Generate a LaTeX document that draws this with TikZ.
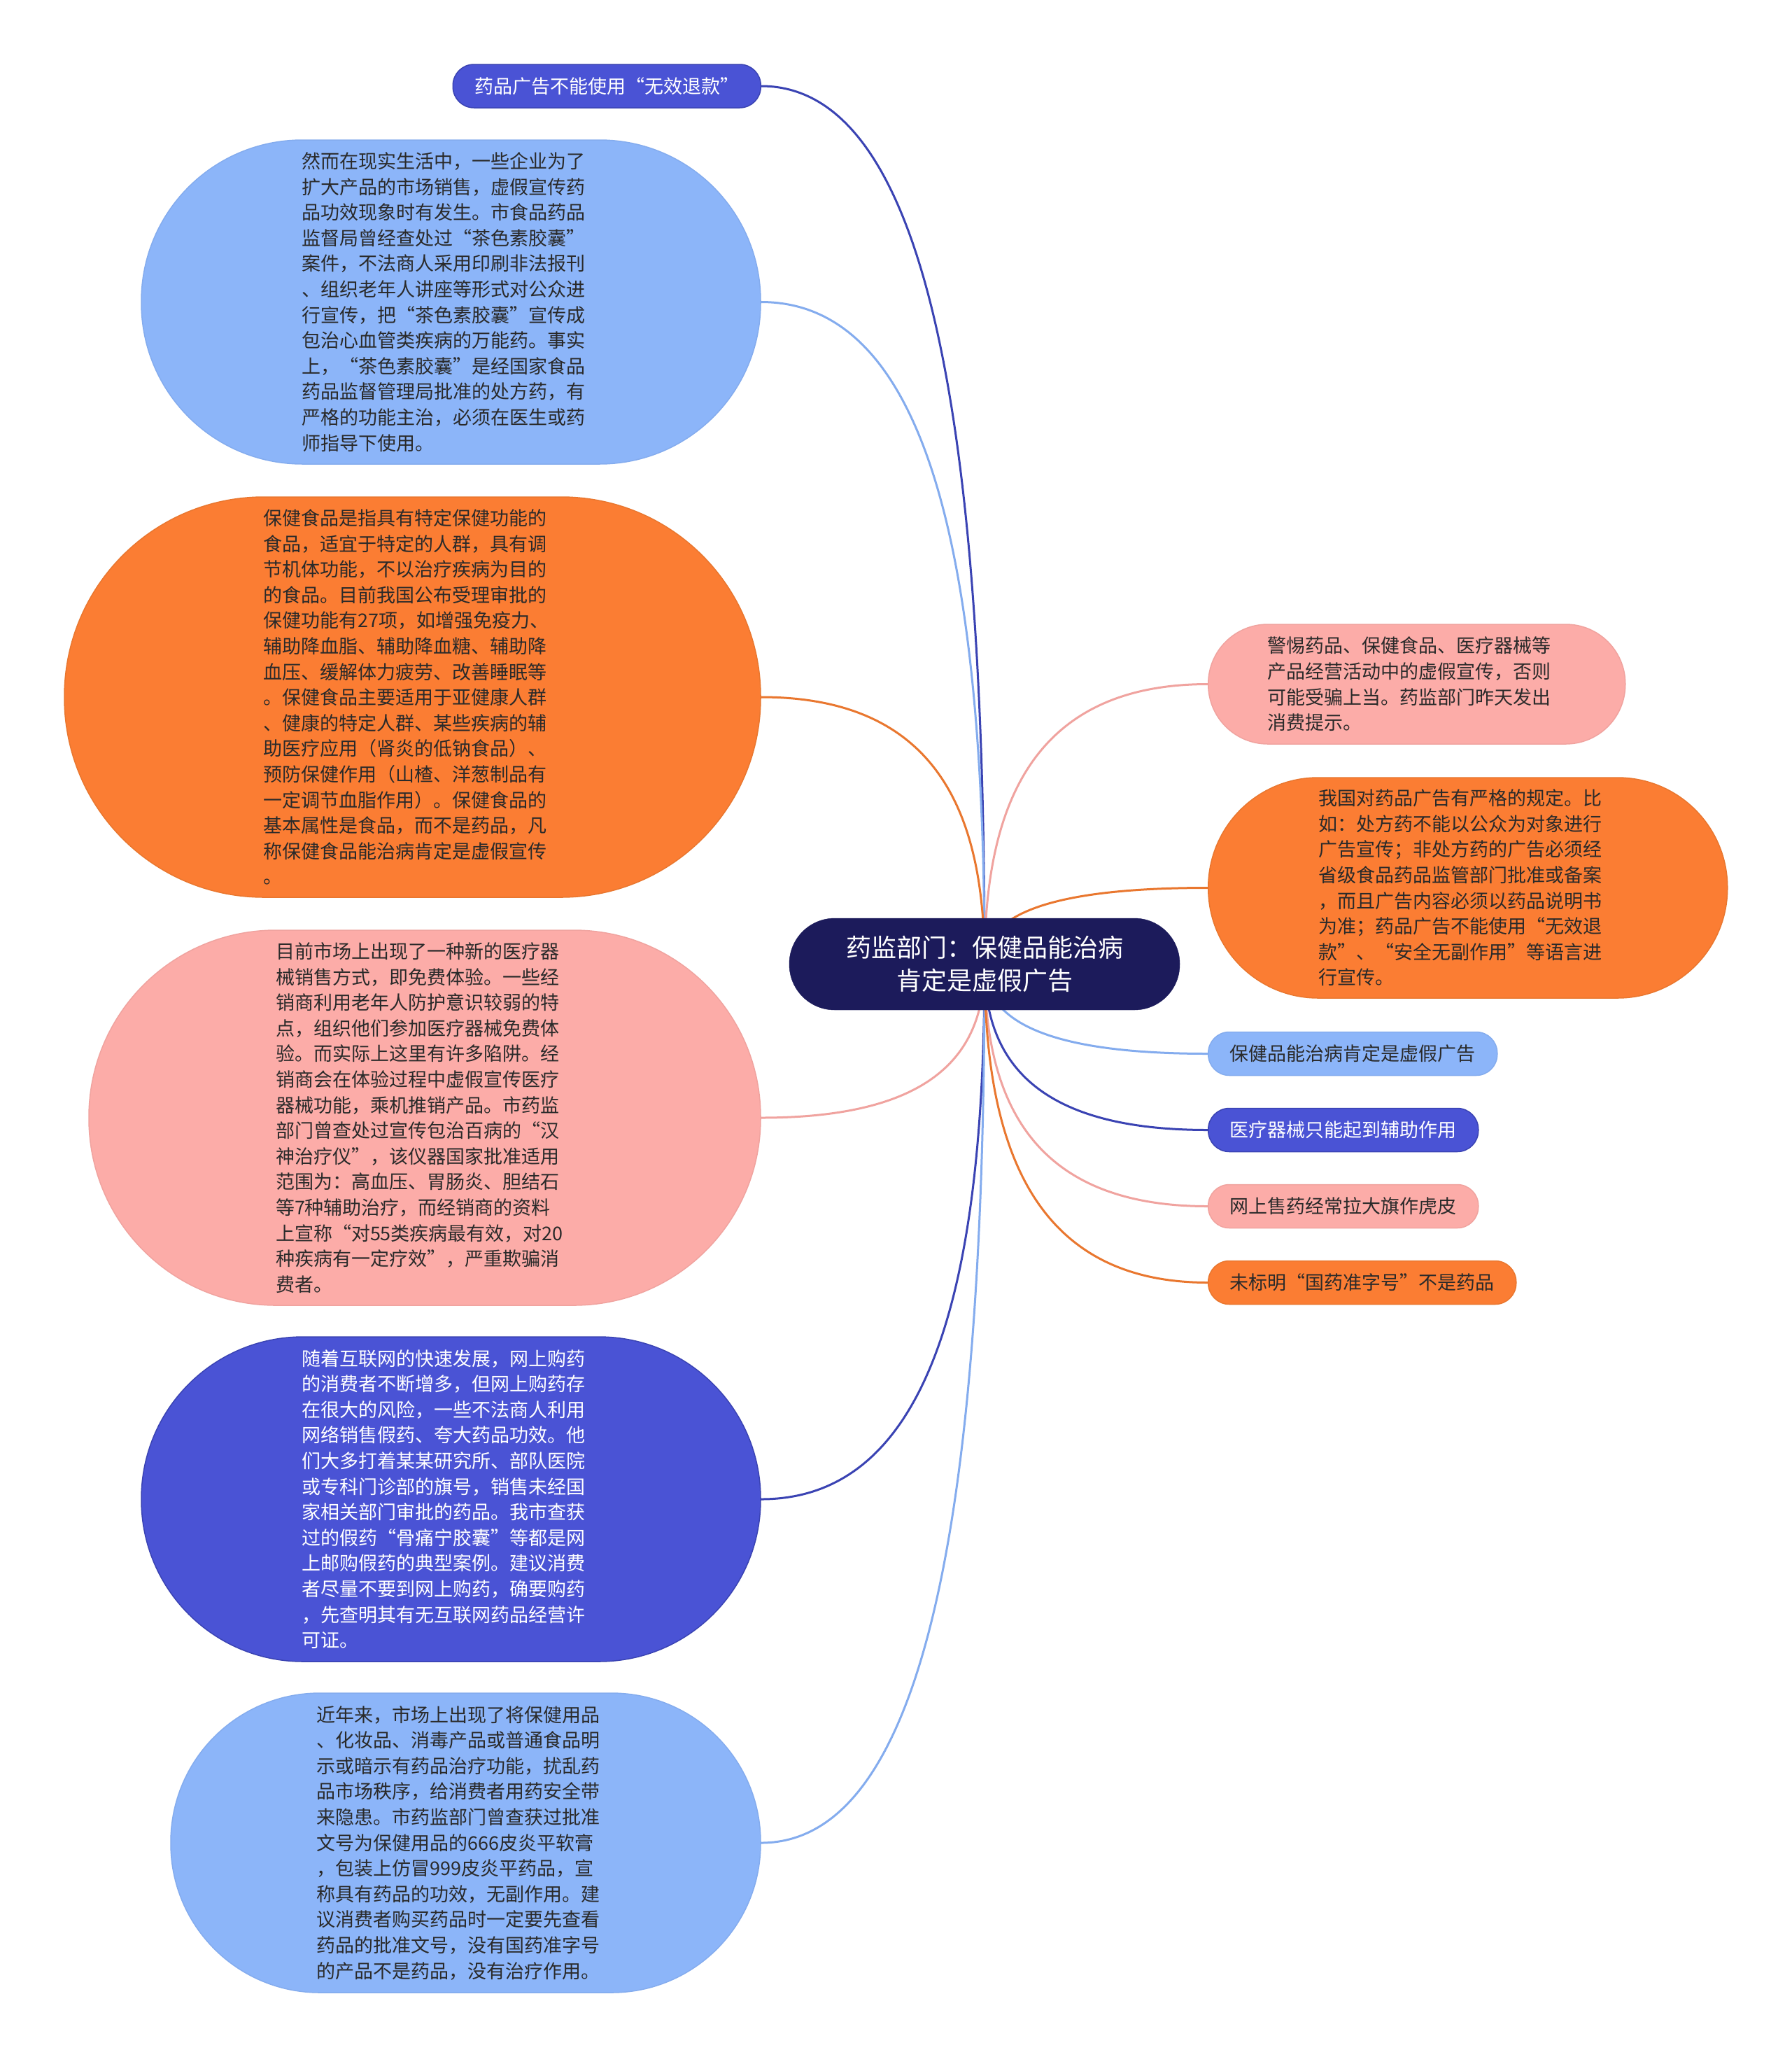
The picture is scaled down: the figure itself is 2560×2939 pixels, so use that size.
\documentclass[tikz,border=0pt]{standalone}
\usepackage{fontspec}
\setmainfont{Noto Sans CJK SC}
\usetikzlibrary{calc,backgrounds}
\definecolor{ink}{HTML}{2A2A2A}
\definecolor{navy}{HTML}{1C1B5B}
\definecolor{violetfill}{HTML}{4A53D5}
\definecolor{violetline}{HTML}{3A43B3}
\definecolor{skyfill}{HTML}{8CB5F9}
\definecolor{skyline}{HTML}{84ACEE}
\definecolor{orangefill}{HTML}{FB7D33}
\definecolor{orangeline}{HTML}{E9772F}
\definecolor{pinkfill}{HTML}{FCACA8}
\definecolor{pinkline}{HTML}{F0A39F}
\newcommand{\leafsize}{\fontsize{27}{36.6}\selectfont}
\newcommand{\rootsize}{\fontsize{36}{47}\selectfont}
% curve from the centre of the root to one anchor
\newcommand{\branch}[2]{%
  \draw[link,draw=#1] let \p1=(root.center), \p2=(#2) in
    (\p1) .. controls (\x1,{\y1+0.55*(\y2-\y1)}) and ({\x2+0.8*(\x1-\x2)},\y2) .. (\p2);}
\tikzset{
 every node/.append style={font=\leafsize,text=ink},
 leaf/.style={draw=#1line,fill=#1fill,line width=1.5pt,inner xsep=31pt,inner ysep=0pt,minimum height=62pt,rounded corners=30pt},
 blob/.style={draw=#1line,fill=#1fill,line width=1.5pt,inner sep=0pt,text width=426pt,align=left},
 link/.style={line width=3pt},
}

\begin{document}
\begin{tikzpicture}[x=1pt,y=-1pt]

\useasboundingbox (0,0) rectangle (2560,2939);

\node[fill=navy,draw=navy,text=white,font=\rootsize,align=center,minimum width=558pt,minimum height=131pt,rounded corners=65pt] (root) at (1407,1377.5) {药监部门：保健品能治病\\肯定是虚假广告};

% left side
\node[leaf=violet,text=white,anchor=east] (noreturn) at (1088,123) {药品广告不能使用“无效退款”};
\node[blob=sky,minimum width=885pt,minimum height=463pt,rounded corners=230pt] (teacase) at (644.5,431.5) {然而在现实生活中，一些企业为了\\扩大产品的市场销售，虚假宣传药\\品功效现象时有发生。市食品药品\\监督局曾经查处过“茶色素胶囊”\\案件，不法商人采用印刷非法报刊\\、组织老年人讲座等形式对公众进\\行宣传，把“茶色素胶囊”宣传成\\包治心血管类疾病的万能药。事实\\上，“茶色素胶囊”是经国家食品\\药品监督管理局批准的处方药，有\\严格的功能主治，必须在医生或药\\师指导下使用。};
\node[blob=orange,minimum width=995pt,minimum height=572pt,rounded corners=285pt] (healthfood) at (589.5,996) {保健食品是指具有特定保健功能的\\食品，适宜于特定的人群，具有调\\节机体功能，不以治疗疾病为目的\\的食品。目前我国公布受理审批的\\保健功能有27项，如增强免疫力、\\辅助降血脂、辅助降血糖、辅助降\\血压、缓解体力疲劳、改善睡眠等\\。保健食品主要适用于亚健康人群\\、健康的特定人群、某些疾病的辅\\助医疗应用（肾炎的低钠食品）、\\预防保健作用（山楂、洋葱制品有\\一定调节血脂作用）。保健食品的\\基本属性是食品，而不是药品，凡\\称保健食品能治病肯定是虚假宣传\\。};
\node[blob=pink,minimum width=960pt,minimum height=536pt,rounded corners=267pt] (freetrial) at (607,1597) {目前市场上出现了一种新的医疗器\\械销售方式，即免费体验。一些经\\销商利用老年人防护意识较弱的特\\点，组织他们参加医疗器械免费体\\验。而实际上这里有许多陷阱。经\\销商会在体验过程中虚假宣传医疗\\器械功能，乘机推销产品。市药监\\部门曾查处过宣传包治百病的“汉\\神治疗仪”，该仪器国家批准适用\\范围为：高血压、胃肠炎、胆结石\\等7种辅助治疗，而经销商的资料\\上宣称“对55类疾病最有效，对20\\种疾病有一定疗效”，严重欺骗消\\费者。};
\node[blob=violet,text=white,minimum width=885pt,minimum height=464pt,rounded corners=231pt] (online) at (644.5,2142) {随着互联网的快速发展，网上购药\\的消费者不断增多，但网上购药存\\在很大的风险，一些不法商人利用\\网络销售假药、夸大药品功效。他\\们大多打着某某研究所、部队医院\\或专科门诊部的旗号，销售未经国\\家相关部门审批的药品。我市查获\\过的假药“骨痛宁胶囊”等都是网\\上邮购假药的典型案例。建议消费\\者尽量不要到网上购药，确要购药\\，先查明其有无互联网药品经营许\\可证。};
\node[blob=sky,minimum width=843pt,minimum height=428pt,rounded corners=213pt] (fakecream) at (665.5,2633) {近年来，市场上出现了将保健用品\\、化妆品、消毒产品或普通食品明\\示或暗示有药品治疗功能，扰乱药\\品市场秩序，给消费者用药安全带\\来隐患。市药监部门曾查获过批准\\文号为保健用品的666皮炎平软膏\\，包装上仿冒999皮炎平药品，宣\\称具有药品的功效，无副作用。建\\议消费者购买药品时一定要先查看\\药品的批准文号，没有国药准字号\\的产品不是药品，没有治疗作用。};

% right side
\node[blob=pink,minimum width=596pt,minimum height=171pt,rounded corners=85pt,anchor=west] (warning) at (1726,977.5) {警惕药品、保健食品、医疗器械等\\产品经营活动中的虚假宣传，否则\\可能受骗上当。药监部门昨天发出\\消费提示。};
\node[blob=orange,minimum width=742pt,minimum height=315pt,rounded corners=157pt,anchor=west] (adrules) at (1726,1268.5) {我国对药品广告有严格的规定。比\\如：处方药不能以公众为对象进行\\广告宣传；非处方药的广告必须经\\省级食品药品监管部门批准或备案\\，而且广告内容必须以药品说明书\\为准；药品广告不能使用“无效退\\款”、“安全无副作用”等语言进\\行宣传。};
\node[leaf=sky,anchor=west] (falsead) at (1726,1505.5) {保健品能治病肯定是虚假广告};
\node[leaf=violet,text=white,anchor=west] (auxiliary) at (1726,1614.5) {医疗器械只能起到辅助作用};
\node[leaf=pink,anchor=west] (tigerskin) at (1726,1723.5) {网上售药经常拉大旗作虎皮};
\node[leaf=orange,anchor=west] (approval) at (1726,1832.5) {未标明“国药准字号”不是药品};

\begin{scope}[on background layer]
\fill[white] (0,0) rectangle (2560,2939);
\branch{violetline}{noreturn.east}
\branch{skyline}{teacase.east}
\branch{orangeline}{healthfood.east}
\branch{pinkline}{freetrial.east}
\branch{violetline}{online.east}
\branch{skyline}{fakecream.east}
\branch{pinkline}{warning.west}
\branch{orangeline}{adrules.west}
\branch{skyline}{falsead.west}
\branch{violetline}{auxiliary.west}
\branch{pinkline}{tigerskin.west}
\branch{orangeline}{approval.west}
\end{scope}

\end{tikzpicture}
\end{document}
